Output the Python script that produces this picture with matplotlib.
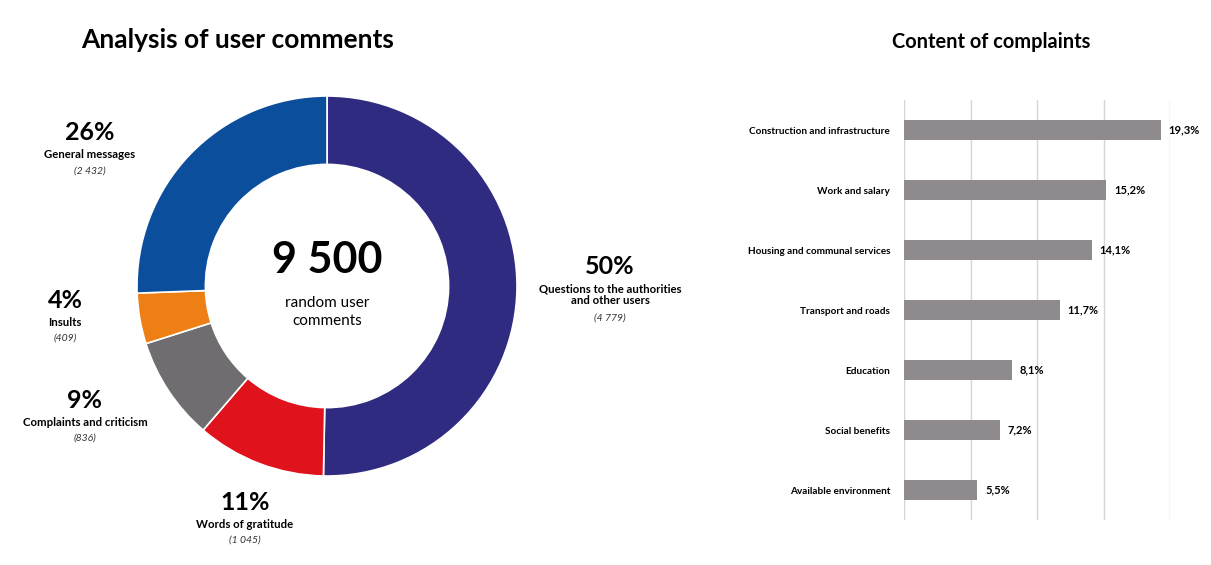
import numpy as np
import matplotlib.pyplot as plt

plt.rcParams['font.family'] = ['Lato', 'DejaVu Sans']

# donut data (clockwise from top)
seg_names = ['Questions to the authorities\nand other users', 'Words of gratitude',
             'Complaints and criticism', 'Insults', 'General messages']
seg_counts = [4779, 1045, 836, 409, 2432]
seg_pct = ['50%', '11%', '9%', '4%', '26%']
seg_counts_txt = ['(4 779)', '(1 045)', '(836)', '(409)', '(2 432)']
seg_colors = ['#2f2b80', '#e0121b', '#6f6d70', '#ee7f14', '#0b4f9c']
total_txt = '9 500'

# bar data
cats = ['Construction and infrastructure', 'Work and salary', 'Housing and communal services',
        'Transport and roads', 'Education', 'Social benefits', 'Available environment']
vals = [19.3, 15.2, 14.1, 11.7, 8.1, 7.2, 5.5]

W, H = 1211, 565
fig = plt.figure(figsize=(W / 100, H / 100), dpi=100)

def fx(px):
    return px / W

def fy(py):
    return 1 - py / H

# ---- donut ----
cx, cy, r = 327, 286, 190
ax = fig.add_axes([fx(cx - r), fy(cy + r), 2 * r / W, 2 * r / H])
ax.pie(seg_counts, colors=seg_colors, startangle=90, counterclock=False,
       radius=1, wedgeprops=dict(width=0.36, edgecolor='white', linewidth=1.2))
ax.set_xlim(-1, 1)
ax.set_ylim(-1, 1)
ax.set_aspect('auto')
ax.axis('off')

fig.text(fx(cx), fy(260), total_txt, ha='center', va='center', fontsize=31, fontweight='bold')
fig.text(fx(cx), fy(312), 'random user\ncomments', ha='center', va='center', fontsize=11,
         linespacing=1.3)

# label positions in pixels (pct line, name line)
lab_pos = [(610, 266), (245, 502), (85, 400), (65, 300), (90, 133)]
for i, (lx, ly) in enumerate(lab_pos):
    fig.text(fx(lx), fy(ly), seg_pct[i], ha='center', va='center', fontsize=18, fontweight='bold')
    nlines = seg_names[i].count('\n') + 1
    ny = ly + 22 + (nlines - 1) * 6.5
    fig.text(fx(lx), fy(ny), seg_names[i], ha='center', va='center', fontsize=8.2,
             fontweight='bold', linespacing=1.1)
    fig.text(fx(lx), fy(ny + 8 + nlines * 8), seg_counts_txt[i], ha='center', va='center',
             fontsize=7.5, style='italic', color='#333333')

fig.text(fx(238), fy(40), 'Analysis of user comments', ha='center', va='center',
         fontsize=19, fontweight='bold')

# ---- bars ----
bx = fig.add_axes([fx(904), fy(520), 266 / W, 420 / H])
y = np.arange(len(cats))
bx.barh(y, vals, height=0.33, color='#8e8a8d', zorder=3)
bx.set_xlim(0, 20)
bx.set_ylim(6.5, -0.5)
bx.set_xticks([0, 5, 10, 15, 20])
bx.set_xticklabels([])
bx.tick_params(axis='both', length=0)
bx.grid(axis='x', color='#d4d4d4', linewidth=1, zorder=0)
bx.set_yticks(y)
bx.set_yticklabels(cats, fontsize=7.2, fontweight='bold')
bx.tick_params(axis='y', pad=10)
for s in bx.spines.values():
    s.set_visible(False)
for yi, v in zip(y, vals):
    bx.text(v + 0.6, yi, f'{v:.1f}%'.replace('.', ','), va='center', ha='left',
            fontsize=8, fontweight='bold')

fig.text(fx(991), fy(42), 'Content of complaints', ha='center', va='center',
         fontsize=14.4, fontweight='bold')

fig.savefig('out.png', dpi=100, facecolor='white')
